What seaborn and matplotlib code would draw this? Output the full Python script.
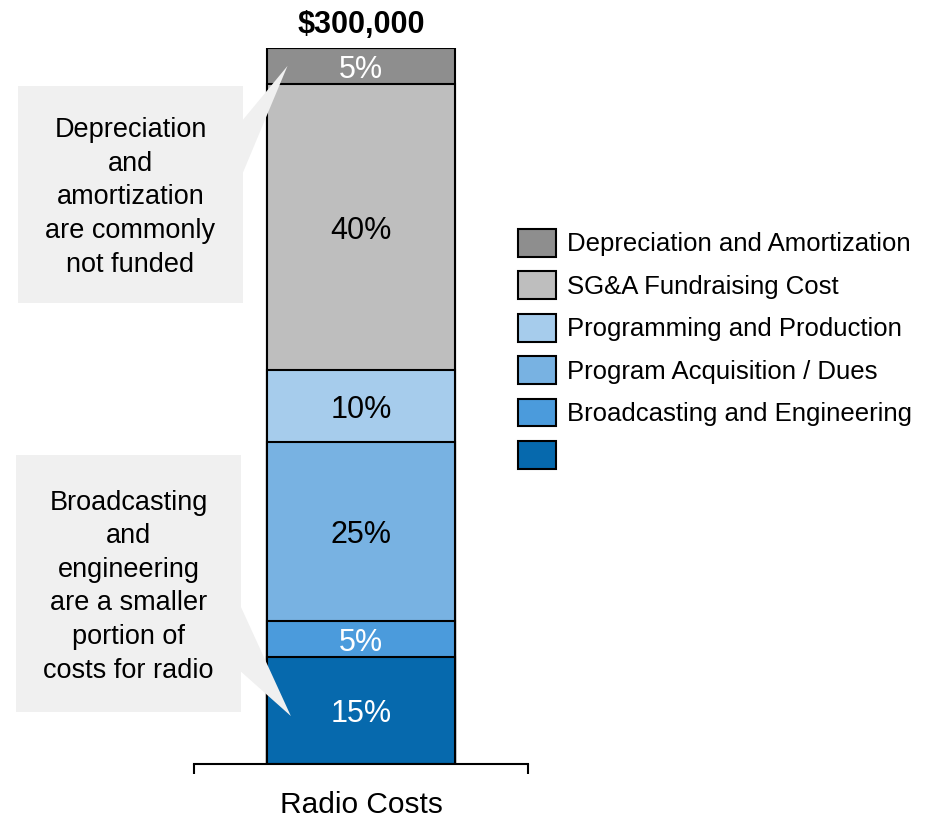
import matplotlib
matplotlib.use("Agg")
import matplotlib.pyplot as plt
from matplotlib.patches import Rectangle, Polygon, Patch
import numpy as np
import pandas as pd
import seaborn as sns

# ---- data (bottom of the stack first) ----
categories = [
    "Operations",
    "Broadcasting and Engineering",
    "Program Acquisition / Dues",
    "Programming and Production",
    "SG&A Fundraising Cost",
    "Depreciation and Amortization",
]
shares = [15, 5, 25, 10, 40, 5]
colors = ["#0669AD", "#4B9BDC", "#78B2E2", "#A6CCEC", "#BEBEBE", "#8E8E8E"]
label_colors = ["white", "white", "black", "black", "black", "white"]
legend_labels = [
    "Depreciation and Amortization",
    "SG&A Fundraising Cost",
    "Programming and Production",
    "Program Acquisition / Dues",
    "Broadcasting and Engineering",
    "",
]
bar_name = "Radio Costs"
total_cost = 300000

sns.set_style("white")
plt.rcParams["font.family"] = ["Liberation Sans", "DejaVu Sans"]
plt.rcParams["text.color"] = "black"
plt.rcParams["axes.labelcolor"] = "black"

W, H = 940, 823
fig = plt.figure(figsize=(W / 100, H / 100), dpi=100)


def fx(x):
    return x / W


def fy(y):
    return 1 - y / H


ax = fig.add_axes([fx(194), fy(764), fx(528) - fx(194), fy(48) - fy(764)])

df = pd.DataFrame({"bar": bar_name, "category": categories, "share": shares})
df["top"] = df["share"].cumsum()
df["mid"] = df["top"] - df["share"] / 2

# stacked bar: draw cumulative heights from tallest to shortest
for i in range(len(df) - 1, -1, -1):
    row = df.iloc[i]
    sns.barplot(x=[row["bar"]], y=[row["top"]], color=colors[i], saturation=1,
                width=0.56, edgecolor="black", linewidth=1.5, ax=ax, zorder=2)

ax.set_xlim(-0.5, 0.5)
ax.set_ylim(0, 100)

# segment percentages
for i, row in df.iterrows():
    ax.annotate(f"{row['share']}%", xy=(0, row["mid"]), xytext=(0, -3),
                textcoords="offset points", ha="center", va="center",
                fontsize=22, color=label_colors[i], zorder=5)

ax.annotate(f"${total_cost:,.0f}", xy=(0, df["top"].iloc[-1]), xytext=(0, 6),
            textcoords="offset points", ha="center", va="bottom",
            fontsize=22, fontweight="bold", annotation_clip=False)

for s in ["left", "right", "top"]:
    ax.spines[s].set_visible(False)
ax.spines["bottom"].set_linewidth(1.5)
ax.spines["bottom"].set_color("black")
ax.set_yticks([])
ax.set_ylabel("")
ax.set_xticks([-0.5, 0.5], ["", ""])
ax.tick_params(axis="x", direction="out", length=7, width=1.5, color="black",
               bottom=True)
ax.set_xlabel(bar_name, fontsize=21.5, labelpad=9)

# legend
handles = [Patch(facecolor=c, edgecolor="black", linewidth=1.5) for c in colors[::-1]]
fig.legend(handles, legend_labels, loc="upper left",
           bbox_to_anchor=(fx(518), fy(229)), frameon=False, fontsize=18.5,
           handlelength=1.48, handleheight=1.28, handletextpad=0.42,
           labelspacing=0.575, borderpad=0, borderaxespad=0)

# callouts
box_color = "#F0F0F0"
to_fig = ax.transData + fig.transFigure.inverted()


def callout(x0, y0, x1, y1, base_y0, base_y1, tip_data, text):
    fig.patches.append(Rectangle((fx(x0), fy(y1)), fx(x1) - fx(x0), fy(y0) - fy(y1),
                                 transform=fig.transFigure, facecolor=box_color,
                                 edgecolor="none", zorder=3))
    tip = to_fig.transform(tip_data)
    fig.patches.append(Polygon([(fx(x1) - 0.002, fy(base_y0)), tip,
                                (fx(x1) - 0.002, fy(base_y1))],
                               closed=True, transform=fig.transFigure,
                               facecolor=box_color, edgecolor="none", zorder=3))
    fig.text(fx((x0 + x1) / 2), fy((y0 + y1) / 2 + 3), text, ha="center", va="center",
             fontsize=19.5, linespacing=1.38, zorder=4)


callout(18, 86, 243, 303, 122, 177, (-0.22, df["mid"].iloc[5]),
        "Depreciation\nand\namortization\nare commonly\nnot funded")
callout(16, 455, 241, 712, 603, 670, (-0.21, df["mid"].iloc[0] - 0.8),
        "Broadcasting\nand\nengineering\nare a smaller\nportion of\ncosts for radio")

fig.savefig("out.png", dpi=100)
